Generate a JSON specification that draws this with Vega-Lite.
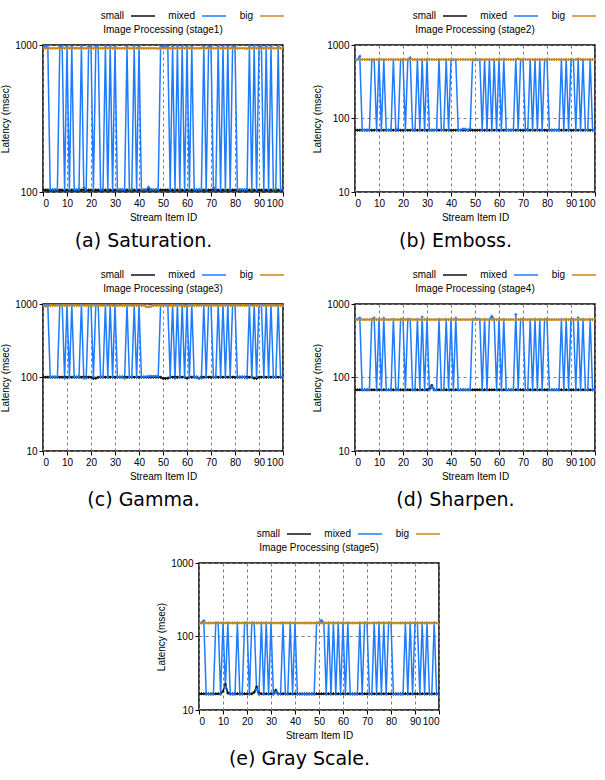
{
"$schema": "https://vega.github.io/schema/vega-lite/v6.json",
"padding": {"left": 0, "top": 3, "right": 5, "bottom": 2},
"background": "white",
"config": {
  "font": "Liberation Sans",
  "view": {"stroke": "#000", "strokeWidth": 1.5},
  "axis": {"labelFontSize": 10, "titleFontSize": 10, "titleFontWeight": "normal", "labelColor": "#000", "titleColor": "#000", "gridDash": [3, 3], "gridColor": "#808080", "gridWidth": 1, "domain": false, "tickColor": "#000", "tickSize": 4, "labelPadding": 2, "titlePadding": 4},
  "legend": {"labelFontSize": 10, "labelColor": "#000", "symbolType": "stroke", "symbolStrokeWidth": 1.5, "symbolSize": 576, "labelAlign": "right", "labelOffset": -32, "columnPadding": 10, "padding": 0},
  "title": {"fontSize": 10, "fontWeight": "normal", "color": "#000"}
},
"center": true,
"spacing": 11,
"resolve": {"scale": {"color": "independent"}, "legend": {"color": "independent"}},
"datasets": {
"s1": [
{"x":0,"small":103,"mixed":970,"big":950},{"x":1,"small":103,"mixed":970,"big":950},{"x":2,"small":103,"mixed":995,"big":950},{"x":3,"small":103,"mixed":104,"big":950},{"x":4,"small":103,"mixed":104,"big":950},{"x":5,"small":103,"mixed":104,"big":950},{"x":6,"small":103,"mixed":104,"big":950},{"x":7,"small":103,"mixed":970,"big":950},{"x":8,"small":103,"mixed":970,"big":950},{"x":9,"small":103,"mixed":104,"big":950},
{"x":10,"small":103,"mixed":970,"big":950},{"x":11,"small":103,"mixed":104,"big":950},{"x":12,"small":103,"mixed":970,"big":950},{"x":13,"small":103,"mixed":104,"big":950},{"x":14,"small":103,"mixed":104,"big":955},{"x":15,"small":103,"mixed":104,"big":950},{"x":16,"small":103,"mixed":970,"big":950},{"x":17,"small":104,"mixed":107,"big":950},{"x":18,"small":103,"mixed":104,"big":950},{"x":19,"small":103,"mixed":970,"big":950},
{"x":20,"small":103,"mixed":990,"big":950},{"x":21,"small":103,"mixed":104,"big":950},{"x":22,"small":103,"mixed":970,"big":950},{"x":23,"small":103,"mixed":995,"big":950},{"x":24,"small":103,"mixed":104,"big":950},{"x":25,"small":103,"mixed":104,"big":950},{"x":26,"small":103,"mixed":970,"big":950},{"x":27,"small":103,"mixed":104,"big":950},{"x":28,"small":103,"mixed":970,"big":950},{"x":29,"small":103,"mixed":104,"big":950},
{"x":30,"small":103,"mixed":970,"big":945},{"x":31,"small":103,"mixed":104,"big":950},{"x":32,"small":103,"mixed":104,"big":950},{"x":33,"small":103,"mixed":104,"big":950},{"x":34,"small":103,"mixed":104,"big":950},{"x":35,"small":103,"mixed":970,"big":950},{"x":36,"small":103,"mixed":104,"big":950},{"x":37,"small":103,"mixed":104,"big":950},{"x":38,"small":103,"mixed":985,"big":950},{"x":39,"small":103,"mixed":104,"big":950},
{"x":40,"small":103,"mixed":970,"big":950},{"x":41,"small":103,"mixed":104,"big":950},{"x":42,"small":103,"mixed":104,"big":950},{"x":43,"small":103,"mixed":104,"big":950},{"x":44,"small":104,"mixed":108,"big":950},{"x":45,"small":103,"mixed":104,"big":950},{"x":46,"small":103,"mixed":104,"big":950},{"x":47,"small":103,"mixed":104,"big":950},{"x":48,"small":103,"mixed":104,"big":945},{"x":49,"small":103,"mixed":970,"big":950},
{"x":50,"small":103,"mixed":970,"big":950},{"x":51,"small":103,"mixed":970,"big":950},{"x":52,"small":103,"mixed":970,"big":950},{"x":53,"small":103,"mixed":104,"big":950},{"x":54,"small":103,"mixed":970,"big":950},{"x":55,"small":103,"mixed":104,"big":950},{"x":56,"small":103,"mixed":970,"big":950},{"x":57,"small":103,"mixed":104,"big":950},{"x":58,"small":103,"mixed":970,"big":950},{"x":59,"small":103,"mixed":104,"big":950},
{"x":60,"small":103,"mixed":970,"big":950},{"x":61,"small":103,"mixed":104,"big":950},{"x":62,"small":103,"mixed":970,"big":950},{"x":63,"small":103,"mixed":104,"big":950},{"x":64,"small":103,"mixed":104,"big":950},{"x":65,"small":103,"mixed":104,"big":950},{"x":66,"small":103,"mixed":104,"big":955},{"x":67,"small":103,"mixed":970,"big":950},{"x":68,"small":103,"mixed":104,"big":950},{"x":69,"small":103,"mixed":970,"big":950},
{"x":70,"small":103,"mixed":970,"big":950},{"x":71,"small":104,"mixed":107,"big":950},{"x":72,"small":103,"mixed":104,"big":950},{"x":73,"small":103,"mixed":970,"big":950},{"x":74,"small":103,"mixed":104,"big":950},{"x":75,"small":103,"mixed":970,"big":950},{"x":76,"small":103,"mixed":104,"big":950},{"x":77,"small":103,"mixed":970,"big":950},{"x":78,"small":103,"mixed":104,"big":950},{"x":79,"small":103,"mixed":970,"big":950},
{"x":80,"small":103,"mixed":970,"big":950},{"x":81,"small":103,"mixed":104,"big":950},{"x":82,"small":103,"mixed":104,"big":950},{"x":83,"small":103,"mixed":104,"big":950},{"x":84,"small":103,"mixed":104,"big":950},{"x":85,"small":103,"mixed":104,"big":945},{"x":86,"small":103,"mixed":970,"big":950},{"x":87,"small":103,"mixed":104,"big":950},{"x":88,"small":103,"mixed":970,"big":950},{"x":89,"small":103,"mixed":104,"big":950},
{"x":90,"small":103,"mixed":970,"big":950},{"x":91,"small":103,"mixed":970,"big":950},{"x":92,"small":103,"mixed":104,"big":950},{"x":93,"small":103,"mixed":970,"big":950},{"x":94,"small":103,"mixed":104,"big":950},{"x":95,"small":103,"mixed":970,"big":950},{"x":96,"small":103,"mixed":104,"big":950},{"x":97,"small":103,"mixed":104,"big":950},{"x":98,"small":103,"mixed":970,"big":950},{"x":99,"small":103,"mixed":104,"big":950},
{"x":100,"small":103,"mixed":104,"big":950}
],
"s2": [
{"x":0,"small":69,"mixed":630,"big":635},{"x":1,"small":69,"mixed":630,"big":635},{"x":2,"small":69,"mixed":700,"big":635},{"x":3,"small":69,"mixed":69,"big":635},{"x":4,"small":69,"mixed":69,"big":635},{"x":5,"small":69,"mixed":69,"big":635},{"x":6,"small":69,"mixed":69,"big":635},{"x":7,"small":69,"mixed":630,"big":635},{"x":8,"small":69,"mixed":630,"big":635},{"x":9,"small":69,"mixed":69,"big":635},
{"x":10,"small":69,"mixed":630,"big":635},{"x":11,"small":69,"mixed":69,"big":635},{"x":12,"small":69,"mixed":630,"big":635},{"x":13,"small":69,"mixed":69,"big":635},{"x":14,"small":69,"mixed":69,"big":635},{"x":15,"small":69,"mixed":69,"big":635},{"x":16,"small":69,"mixed":630,"big":635},{"x":17,"small":69,"mixed":69,"big":635},{"x":18,"small":69,"mixed":72,"big":635},{"x":19,"small":69,"mixed":630,"big":635},
{"x":20,"small":69,"mixed":630,"big":635},{"x":21,"small":69,"mixed":69,"big":635},{"x":22,"small":69,"mixed":630,"big":635},{"x":23,"small":69,"mixed":670,"big":635},{"x":24,"small":69,"mixed":69,"big":635},{"x":25,"small":69,"mixed":69,"big":635},{"x":26,"small":69,"mixed":630,"big":635},{"x":27,"small":69,"mixed":69,"big":635},{"x":28,"small":69,"mixed":630,"big":635},{"x":29,"small":69,"mixed":69,"big":635},
{"x":30,"small":69,"mixed":630,"big":635},{"x":31,"small":69,"mixed":69,"big":635},{"x":32,"small":69,"mixed":69,"big":635},{"x":33,"small":69,"mixed":69,"big":635},{"x":34,"small":69,"mixed":69,"big":635},{"x":35,"small":69,"mixed":630,"big":635},{"x":36,"small":69,"mixed":69,"big":635},{"x":37,"small":69,"mixed":69,"big":635},{"x":38,"small":69,"mixed":630,"big":635},{"x":39,"small":69,"mixed":69,"big":635},
{"x":40,"small":69,"mixed":630,"big":635},{"x":41,"small":69,"mixed":630,"big":635},{"x":42,"small":69,"mixed":630,"big":635},{"x":43,"small":69,"mixed":69,"big":635},{"x":44,"small":69,"mixed":69,"big":635},{"x":45,"small":69,"mixed":72,"big":635},{"x":46,"small":69,"mixed":72,"big":635},{"x":47,"small":69,"mixed":69,"big":635},{"x":48,"small":69,"mixed":73,"big":635},{"x":49,"small":69,"mixed":630,"big":635},
{"x":50,"small":69,"mixed":630,"big":635},{"x":51,"small":69,"mixed":630,"big":635},{"x":52,"small":69,"mixed":630,"big":635},{"x":53,"small":69,"mixed":69,"big":635},{"x":54,"small":69,"mixed":630,"big":635},{"x":55,"small":69,"mixed":69,"big":635},{"x":56,"small":69,"mixed":630,"big":635},{"x":57,"small":69,"mixed":69,"big":635},{"x":58,"small":69,"mixed":630,"big":635},{"x":59,"small":69,"mixed":69,"big":635},
{"x":60,"small":69,"mixed":630,"big":635},{"x":61,"small":69,"mixed":69,"big":635},{"x":62,"small":69,"mixed":640,"big":635},{"x":63,"small":69,"mixed":69,"big":635},{"x":64,"small":69,"mixed":69,"big":635},{"x":65,"small":69,"mixed":69,"big":635},{"x":66,"small":69,"mixed":69,"big":635},{"x":67,"small":69,"mixed":630,"big":635},{"x":68,"small":69,"mixed":69,"big":650},{"x":69,"small":69,"mixed":630,"big":635},
{"x":70,"small":69,"mixed":630,"big":635},{"x":71,"small":69,"mixed":72,"big":635},{"x":72,"small":69,"mixed":69,"big":635},{"x":73,"small":69,"mixed":630,"big":635},{"x":74,"small":69,"mixed":69,"big":635},{"x":75,"small":69,"mixed":630,"big":635},{"x":76,"small":69,"mixed":69,"big":635},{"x":77,"small":69,"mixed":630,"big":635},{"x":78,"small":69,"mixed":69,"big":635},{"x":79,"small":69,"mixed":630,"big":635},
{"x":80,"small":69,"mixed":630,"big":635},{"x":81,"small":69,"mixed":69,"big":635},{"x":82,"small":69,"mixed":69,"big":635},{"x":83,"small":69,"mixed":69,"big":635},{"x":84,"small":69,"mixed":69,"big":635},{"x":85,"small":69,"mixed":69,"big":635},{"x":86,"small":69,"mixed":630,"big":635},{"x":87,"small":69,"mixed":69,"big":635},{"x":88,"small":69,"mixed":630,"big":635},{"x":89,"small":69,"mixed":69,"big":635},
{"x":90,"small":69,"mixed":630,"big":635},{"x":91,"small":69,"mixed":630,"big":635},{"x":92,"small":69,"mixed":69,"big":635},{"x":93,"small":69,"mixed":630,"big":650},{"x":94,"small":69,"mixed":69,"big":635},{"x":95,"small":69,"mixed":630,"big":635},{"x":96,"small":69,"mixed":69,"big":635},{"x":97,"small":69,"mixed":69,"big":635},{"x":98,"small":69,"mixed":630,"big":635},{"x":99,"small":69,"mixed":69,"big":635},
{"x":100,"small":69,"mixed":69,"big":635}
],
"s3": [
{"x":0,"small":101,"mixed":980,"big":955},{"x":1,"small":101,"mixed":940,"big":930},{"x":2,"small":101,"mixed":980,"big":935},{"x":3,"small":101,"mixed":102,"big":955},{"x":4,"small":101,"mixed":102,"big":955},{"x":5,"small":101,"mixed":102,"big":955},{"x":6,"small":101,"mixed":102,"big":955},{"x":7,"small":101,"mixed":980,"big":955},{"x":8,"small":101,"mixed":980,"big":955},{"x":9,"small":101,"mixed":98,"big":955},
{"x":10,"small":101,"mixed":960,"big":955},{"x":11,"small":101,"mixed":102,"big":955},{"x":12,"small":101,"mixed":980,"big":955},{"x":13,"small":101,"mixed":102,"big":955},{"x":14,"small":101,"mixed":102,"big":955},{"x":15,"small":101,"mixed":102,"big":955},{"x":16,"small":101,"mixed":980,"big":955},{"x":17,"small":101,"mixed":98,"big":955},{"x":18,"small":101,"mixed":98,"big":955},{"x":19,"small":101,"mixed":980,"big":955},
{"x":20,"small":101,"mixed":980,"big":955},{"x":21,"small":97,"mixed":102,"big":955},{"x":22,"small":98,"mixed":980,"big":955},{"x":23,"small":101,"mixed":980,"big":955},{"x":24,"small":101,"mixed":102,"big":955},{"x":25,"small":101,"mixed":102,"big":955},{"x":26,"small":101,"mixed":980,"big":955},{"x":27,"small":101,"mixed":102,"big":955},{"x":28,"small":101,"mixed":980,"big":955},{"x":29,"small":101,"mixed":102,"big":955},
{"x":30,"small":101,"mixed":980,"big":940},{"x":31,"small":101,"mixed":102,"big":955},{"x":32,"small":101,"mixed":102,"big":955},{"x":33,"small":101,"mixed":102,"big":955},{"x":34,"small":101,"mixed":98,"big":955},{"x":35,"small":101,"mixed":980,"big":955},{"x":36,"small":101,"mixed":102,"big":955},{"x":37,"small":101,"mixed":102,"big":955},{"x":38,"small":101,"mixed":980,"big":955},{"x":39,"small":101,"mixed":102,"big":955},
{"x":40,"small":101,"mixed":980,"big":955},{"x":41,"small":101,"mixed":102,"big":955},{"x":42,"small":101,"mixed":102,"big":955},{"x":43,"small":101,"mixed":102,"big":920},{"x":44,"small":101,"mixed":104,"big":915},{"x":45,"small":101,"mixed":104,"big":925},{"x":46,"small":101,"mixed":104,"big":955},{"x":47,"small":101,"mixed":104,"big":955},{"x":48,"small":101,"mixed":104,"big":955},{"x":49,"small":101,"mixed":980,"big":955},
{"x":50,"small":97,"mixed":980,"big":955},{"x":51,"small":97,"mixed":980,"big":955},{"x":52,"small":98,"mixed":950,"big":955},{"x":53,"small":101,"mixed":102,"big":955},{"x":54,"small":101,"mixed":980,"big":955},{"x":55,"small":101,"mixed":97,"big":955},{"x":56,"small":101,"mixed":980,"big":955},{"x":57,"small":101,"mixed":102,"big":955},{"x":58,"small":101,"mixed":980,"big":955},{"x":59,"small":101,"mixed":102,"big":935},
{"x":60,"small":98,"mixed":970,"big":930},{"x":61,"small":101,"mixed":102,"big":955},{"x":62,"small":101,"mixed":980,"big":955},{"x":63,"small":101,"mixed":102,"big":955},{"x":64,"small":101,"mixed":102,"big":955},{"x":65,"small":98,"mixed":98,"big":955},{"x":66,"small":101,"mixed":98,"big":955},{"x":67,"small":101,"mixed":980,"big":955},{"x":68,"small":101,"mixed":102,"big":955},{"x":69,"small":101,"mixed":980,"big":955},
{"x":70,"small":101,"mixed":980,"big":955},{"x":71,"small":101,"mixed":102,"big":955},{"x":72,"small":101,"mixed":102,"big":955},{"x":73,"small":101,"mixed":980,"big":955},{"x":74,"small":101,"mixed":102,"big":955},{"x":75,"small":101,"mixed":980,"big":955},{"x":76,"small":101,"mixed":102,"big":955},{"x":77,"small":101,"mixed":980,"big":955},{"x":78,"small":101,"mixed":102,"big":955},{"x":79,"small":101,"mixed":980,"big":955},
{"x":80,"small":101,"mixed":980,"big":955},{"x":81,"small":101,"mixed":102,"big":955},{"x":82,"small":101,"mixed":102,"big":955},{"x":83,"small":101,"mixed":102,"big":955},{"x":84,"small":101,"mixed":102,"big":955},{"x":85,"small":101,"mixed":98,"big":955},{"x":86,"small":101,"mixed":980,"big":955},{"x":87,"small":101,"mixed":102,"big":955},{"x":88,"small":98,"mixed":980,"big":955},{"x":89,"small":97,"mixed":102,"big":955},
{"x":90,"small":101,"mixed":980,"big":955},{"x":91,"small":101,"mixed":980,"big":955},{"x":92,"small":101,"mixed":102,"big":955},{"x":93,"small":101,"mixed":980,"big":955},{"x":94,"small":101,"mixed":102,"big":955},{"x":95,"small":101,"mixed":980,"big":955},{"x":96,"small":101,"mixed":102,"big":955},{"x":97,"small":101,"mixed":102,"big":955},{"x":98,"small":101,"mixed":980,"big":955},{"x":99,"small":101,"mixed":102,"big":955},
{"x":100,"small":101,"mixed":102,"big":955}
],
"s4": [
{"x":0,"small":68,"mixed":620,"big":614},{"x":1,"small":68,"mixed":620,"big":614},{"x":2,"small":68,"mixed":645,"big":614},{"x":3,"small":68,"mixed":68,"big":614},{"x":4,"small":68,"mixed":68,"big":614},{"x":5,"small":68,"mixed":68,"big":614},{"x":6,"small":68,"mixed":68,"big":614},{"x":7,"small":68,"mixed":620,"big":614},{"x":8,"small":68,"mixed":645,"big":614},{"x":9,"small":68,"mixed":68,"big":614},
{"x":10,"small":68,"mixed":620,"big":614},{"x":11,"small":68,"mixed":68,"big":614},{"x":12,"small":68,"mixed":645,"big":614},{"x":13,"small":68,"mixed":68,"big":614},{"x":14,"small":68,"mixed":68,"big":614},{"x":15,"small":68,"mixed":68,"big":614},{"x":16,"small":68,"mixed":620,"big":614},{"x":17,"small":68,"mixed":68,"big":614},{"x":18,"small":68,"mixed":68,"big":614},{"x":19,"small":68,"mixed":620,"big":614},
{"x":20,"small":68,"mixed":620,"big":614},{"x":21,"small":68,"mixed":68,"big":614},{"x":22,"small":68,"mixed":620,"big":614},{"x":23,"small":68,"mixed":620,"big":614},{"x":24,"small":68,"mixed":68,"big":614},{"x":25,"small":68,"mixed":68,"big":614},{"x":26,"small":68,"mixed":620,"big":614},{"x":27,"small":68,"mixed":68,"big":614},{"x":28,"small":68,"mixed":665,"big":614},{"x":29,"small":68,"mixed":68,"big":614},
{"x":30,"small":68,"mixed":620,"big":614},{"x":31,"small":70,"mixed":68,"big":614},{"x":32,"small":78,"mixed":75,"big":614},{"x":33,"small":68,"mixed":68,"big":614},{"x":34,"small":68,"mixed":68,"big":614},{"x":35,"small":68,"mixed":620,"big":614},{"x":36,"small":68,"mixed":68,"big":614},{"x":37,"small":68,"mixed":68,"big":614},{"x":38,"small":68,"mixed":620,"big":614},{"x":39,"small":68,"mixed":68,"big":614},
{"x":40,"small":68,"mixed":620,"big":614},{"x":41,"small":68,"mixed":68,"big":614},{"x":42,"small":68,"mixed":645,"big":614},{"x":43,"small":68,"mixed":68,"big":614},{"x":44,"small":68,"mixed":68,"big":614},{"x":45,"small":68,"mixed":68,"big":614},{"x":46,"small":68,"mixed":68,"big":614},{"x":47,"small":68,"mixed":68,"big":614},{"x":48,"small":68,"mixed":68,"big":614},{"x":49,"small":68,"mixed":620,"big":614},
{"x":50,"small":68,"mixed":620,"big":614},{"x":51,"small":68,"mixed":620,"big":614},{"x":52,"small":68,"mixed":620,"big":614},{"x":53,"small":68,"mixed":68,"big":614},{"x":54,"small":68,"mixed":620,"big":614},{"x":55,"small":68,"mixed":68,"big":614},{"x":56,"small":68,"mixed":620,"big":614},{"x":57,"small":68,"mixed":680,"big":614},{"x":58,"small":68,"mixed":620,"big":614},{"x":59,"small":68,"mixed":68,"big":614},
{"x":60,"small":68,"mixed":620,"big":614},{"x":61,"small":68,"mixed":68,"big":614},{"x":62,"small":68,"mixed":620,"big":614},{"x":63,"small":68,"mixed":68,"big":614},{"x":64,"small":68,"mixed":68,"big":614},{"x":65,"small":68,"mixed":68,"big":614},{"x":66,"small":68,"mixed":68,"big":614},{"x":67,"small":68,"mixed":720,"big":614},{"x":68,"small":68,"mixed":68,"big":614},{"x":69,"small":68,"mixed":620,"big":614},
{"x":70,"small":68,"mixed":620,"big":614},{"x":71,"small":68,"mixed":68,"big":614},{"x":72,"small":68,"mixed":68,"big":614},{"x":73,"small":68,"mixed":620,"big":614},{"x":74,"small":68,"mixed":68,"big":614},{"x":75,"small":68,"mixed":620,"big":614},{"x":76,"small":68,"mixed":68,"big":614},{"x":77,"small":68,"mixed":620,"big":614},{"x":78,"small":68,"mixed":68,"big":614},{"x":79,"small":68,"mixed":620,"big":614},
{"x":80,"small":68,"mixed":620,"big":614},{"x":81,"small":68,"mixed":68,"big":614},{"x":82,"small":68,"mixed":68,"big":614},{"x":83,"small":68,"mixed":68,"big":614},{"x":84,"small":68,"mixed":68,"big":614},{"x":85,"small":68,"mixed":68,"big":614},{"x":86,"small":68,"mixed":620,"big":614},{"x":87,"small":68,"mixed":68,"big":614},{"x":88,"small":68,"mixed":620,"big":614},{"x":89,"small":68,"mixed":68,"big":614},
{"x":90,"small":68,"mixed":620,"big":614},{"x":91,"small":68,"mixed":620,"big":614},{"x":92,"small":68,"mixed":68,"big":614},{"x":93,"small":68,"mixed":650,"big":614},{"x":94,"small":68,"mixed":68,"big":614},{"x":95,"small":68,"mixed":620,"big":614},{"x":96,"small":68,"mixed":68,"big":614},{"x":97,"small":68,"mixed":68,"big":614},{"x":98,"small":68,"mixed":620,"big":614},{"x":99,"small":68,"mixed":68,"big":614},
{"x":100,"small":68,"mixed":68,"big":614}
],
"s5": [
{"x":0,"small":16.6,"mixed":154,"big":153},{"x":1,"small":16.6,"mixed":154,"big":153},{"x":2,"small":16.6,"mixed":164,"big":153},{"x":3,"small":16.6,"mixed":16.4,"big":153},{"x":4,"small":16.6,"mixed":16.4,"big":153},{"x":5,"small":16.6,"mixed":16.4,"big":153},{"x":6,"small":16.6,"mixed":16.4,"big":153},{"x":7,"small":16.6,"mixed":154,"big":153},{"x":8,"small":16.6,"mixed":154,"big":153},{"x":9,"small":16.6,"mixed":16.4,"big":153},
{"x":10,"small":18,"mixed":154,"big":153},{"x":11,"small":22.4,"mixed":20,"big":153},{"x":12,"small":17,"mixed":154,"big":153},{"x":13,"small":16.6,"mixed":16.4,"big":153},{"x":14,"small":16.6,"mixed":16.4,"big":153},{"x":15,"small":16.6,"mixed":16.4,"big":153},{"x":16,"small":16.6,"mixed":154,"big":153},{"x":17,"small":16.6,"mixed":16.4,"big":153},{"x":18,"small":16.6,"mixed":16.4,"big":153},{"x":19,"small":16.6,"mixed":154,"big":153},
{"x":20,"small":16.6,"mixed":154,"big":153},{"x":21,"small":16.6,"mixed":16.4,"big":153},{"x":22,"small":16.6,"mixed":154,"big":153},{"x":23,"small":17.5,"mixed":154,"big":153},{"x":24,"small":20.6,"mixed":19,"big":153},{"x":25,"small":17,"mixed":16.4,"big":153},{"x":26,"small":16.6,"mixed":154,"big":153},{"x":27,"small":16.6,"mixed":16.4,"big":153},{"x":28,"small":16.6,"mixed":154,"big":153},{"x":29,"small":16.6,"mixed":16.4,"big":153},
{"x":30,"small":16.6,"mixed":154,"big":153},{"x":31,"small":16.6,"mixed":16.4,"big":153},{"x":32,"small":18.6,"mixed":17.5,"big":153},{"x":33,"small":16.6,"mixed":16.4,"big":153},{"x":34,"small":16.6,"mixed":16.4,"big":153},{"x":35,"small":16.6,"mixed":154,"big":153},{"x":36,"small":16.6,"mixed":16.4,"big":153},{"x":37,"small":16.6,"mixed":16.4,"big":153},{"x":38,"small":16.6,"mixed":154,"big":153},{"x":39,"small":16.6,"mixed":16.4,"big":153},
{"x":40,"small":16.6,"mixed":154,"big":153},{"x":41,"small":16.6,"mixed":16.4,"big":153},{"x":42,"small":16.6,"mixed":16.4,"big":153},{"x":43,"small":16.6,"mixed":16.4,"big":153},{"x":44,"small":16.6,"mixed":16.4,"big":153},{"x":45,"small":16.6,"mixed":16.4,"big":153},{"x":46,"small":16.6,"mixed":16.4,"big":153},{"x":47,"small":16.6,"mixed":16.4,"big":153},{"x":48,"small":16.6,"mixed":16.4,"big":153},{"x":49,"small":16.6,"mixed":154,"big":153},
{"x":50,"small":16.6,"mixed":154,"big":153},{"x":51,"small":16.6,"mixed":166,"big":153},{"x":52,"small":16.6,"mixed":154,"big":153},{"x":53,"small":16.6,"mixed":16.4,"big":153},{"x":54,"small":16.6,"mixed":154,"big":153},{"x":55,"small":16.6,"mixed":16.4,"big":153},{"x":56,"small":16.6,"mixed":154,"big":153},{"x":57,"small":16.6,"mixed":16.4,"big":153},{"x":58,"small":16.6,"mixed":154,"big":153},{"x":59,"small":16.6,"mixed":16.4,"big":153},
{"x":60,"small":16.6,"mixed":154,"big":153},{"x":61,"small":16.6,"mixed":16.4,"big":153},{"x":62,"small":16.6,"mixed":154,"big":153},{"x":63,"small":16.6,"mixed":16.4,"big":153},{"x":64,"small":16.6,"mixed":16.4,"big":153},{"x":65,"small":16.6,"mixed":16.4,"big":153},{"x":66,"small":16.6,"mixed":16.4,"big":153},{"x":67,"small":16.6,"mixed":154,"big":153},{"x":68,"small":16.6,"mixed":16.4,"big":153},{"x":69,"small":16.6,"mixed":154,"big":153},
{"x":70,"small":16.6,"mixed":154,"big":153},{"x":71,"small":16.6,"mixed":16.4,"big":153},{"x":72,"small":16.6,"mixed":16.4,"big":153},{"x":73,"small":16.6,"mixed":154,"big":153},{"x":74,"small":16.6,"mixed":16.4,"big":153},{"x":75,"small":16.6,"mixed":154,"big":153},{"x":76,"small":16.6,"mixed":16.4,"big":153},{"x":77,"small":16.6,"mixed":154,"big":153},{"x":78,"small":16.6,"mixed":16.4,"big":153},{"x":79,"small":16.6,"mixed":154,"big":153},
{"x":80,"small":16.6,"mixed":154,"big":153},{"x":81,"small":16.6,"mixed":16.4,"big":153},{"x":82,"small":16.6,"mixed":16.4,"big":153},{"x":83,"small":16.6,"mixed":16.4,"big":153},{"x":84,"small":16.6,"mixed":16.4,"big":153},{"x":85,"small":16.6,"mixed":16.4,"big":153},{"x":86,"small":16.6,"mixed":154,"big":153},{"x":87,"small":16.6,"mixed":16.4,"big":153},{"x":88,"small":16.6,"mixed":154,"big":153},{"x":89,"small":16.6,"mixed":16.4,"big":153},
{"x":90,"small":16.6,"mixed":154,"big":153},{"x":91,"small":16.6,"mixed":154,"big":153},{"x":92,"small":16.6,"mixed":16.4,"big":153},{"x":93,"small":16.6,"mixed":154,"big":153},{"x":94,"small":16.6,"mixed":16.4,"big":153},{"x":95,"small":16.6,"mixed":154,"big":153},{"x":96,"small":16.6,"mixed":16.4,"big":153},{"x":97,"small":16.6,"mixed":16.4,"big":153},{"x":98,"small":16.6,"mixed":154,"big":153},{"x":99,"small":16.6,"mixed":16.4,"big":153},
{"x":100,"small":16.6,"mixed":16.4,"big":153}
]
},
"vconcat": [
{"hconcat": [
  {"title": {"text": "(a) Saturation.", "orient": "bottom", "anchor": "middle", "font": "DejaVu Sans", "fontSize": 19, "offset": 9},
   "vconcat": [{
    "width": 240, "height": 147,
    "title": {"text": "Image Processing (stage1)", "offset": 5},
    "data": {"name": "s1"},
    "transform": [{"fold": ["small", "mixed", "big"], "as": ["series", "latency"]}],
    "mark": {"type": "line", "strokeWidth": 1.5, "clip": true, "point": {"shape": "cross", "size": 9, "filled": true}},
    "encoding": {
      "x": {"field": "x", "type": "quantitative", "scale": {"domain": [0, 100], "nice": false}, "axis": {"values": [0,10,20,30,40,50,60,70,80,90,100], "title": "Stream Item ID"}},
      "y": {"field": "latency", "type": "quantitative", "scale": {"type": "log", "domain": [100, 1000]}, "axis": {"values": [100, 1000], "format": "d", "title": "Latency (msec)"}},
      "color": {"field": "series", "type": "nominal", "scale": {"domain": ["small", "mixed", "big"], "range": ["#111111", "#1f7bff", "#c8871e"]}, "legend": {"title": null, "orient": "none", "legendX": 87, "legendY": -42, "direction": "horizontal"}}
    }
   }]},
  {"title": {"text": "(b) Emboss.", "orient": "bottom", "anchor": "middle", "font": "DejaVu Sans", "fontSize": 19, "offset": 9},
   "vconcat": [{
    "width": 240, "height": 147,
    "title": {"text": "Image Processing (stage2)", "offset": 5},
    "data": {"name": "s2"},
    "transform": [{"fold": ["small", "mixed", "big"], "as": ["series", "latency"]}],
    "mark": {"type": "line", "strokeWidth": 1.5, "clip": true, "point": {"shape": "cross", "size": 9, "filled": true}},
    "encoding": {
      "x": {"field": "x", "type": "quantitative", "scale": {"domain": [0, 100], "nice": false}, "axis": {"values": [0,10,20,30,40,50,60,70,80,90,100], "title": "Stream Item ID"}},
      "y": {"field": "latency", "type": "quantitative", "scale": {"type": "log", "domain": [10, 1000]}, "axis": {"values": [10, 100, 1000], "format": "d", "title": "Latency (msec)"}},
      "color": {"field": "series", "type": "nominal", "scale": {"domain": ["small", "mixed", "big"], "range": ["#111111", "#1f7bff", "#c8871e"]}, "legend": {"title": null, "orient": "none", "legendX": 87, "legendY": -42, "direction": "horizontal"}}
    }
   }]}
 ], "spacing": 25, "resolve": {"scale": {"color": "independent"}, "legend": {"color": "independent"}}},
{"hconcat": [
  {"title": {"text": "(c) Gamma.", "orient": "bottom", "anchor": "middle", "font": "DejaVu Sans", "fontSize": 19, "offset": 9},
   "vconcat": [{
    "width": 240, "height": 147,
    "title": {"text": "Image Processing (stage3)", "offset": 5},
    "data": {"name": "s3"},
    "transform": [{"fold": ["small", "mixed", "big"], "as": ["series", "latency"]}],
    "mark": {"type": "line", "strokeWidth": 1.5, "clip": true, "point": {"shape": "cross", "size": 9, "filled": true}},
    "encoding": {
      "x": {"field": "x", "type": "quantitative", "scale": {"domain": [0, 100], "nice": false}, "axis": {"values": [0,10,20,30,40,50,60,70,80,90,100], "title": "Stream Item ID"}},
      "y": {"field": "latency", "type": "quantitative", "scale": {"type": "log", "domain": [10, 1000]}, "axis": {"values": [10, 100, 1000], "format": "d", "title": "Latency (msec)"}},
      "color": {"field": "series", "type": "nominal", "scale": {"domain": ["small", "mixed", "big"], "range": ["#111111", "#1f7bff", "#c8871e"]}, "legend": {"title": null, "orient": "none", "legendX": 87, "legendY": -42, "direction": "horizontal"}}
    }
   }]},
  {"title": {"text": "(d) Sharpen.", "orient": "bottom", "anchor": "middle", "font": "DejaVu Sans", "fontSize": 19, "offset": 9},
   "vconcat": [{
    "width": 240, "height": 147,
    "title": {"text": "Image Processing (stage4)", "offset": 5},
    "data": {"name": "s4"},
    "transform": [{"fold": ["small", "mixed", "big"], "as": ["series", "latency"]}],
    "mark": {"type": "line", "strokeWidth": 1.5, "clip": true, "point": {"shape": "cross", "size": 9, "filled": true}},
    "encoding": {
      "x": {"field": "x", "type": "quantitative", "scale": {"domain": [0, 100], "nice": false}, "axis": {"values": [0,10,20,30,40,50,60,70,80,90,100], "title": "Stream Item ID"}},
      "y": {"field": "latency", "type": "quantitative", "scale": {"type": "log", "domain": [10, 1000]}, "axis": {"values": [10, 100, 1000], "format": "d", "title": "Latency (msec)"}},
      "color": {"field": "series", "type": "nominal", "scale": {"domain": ["small", "mixed", "big"], "range": ["#111111", "#1f7bff", "#c8871e"]}, "legend": {"title": null, "orient": "none", "legendX": 87, "legendY": -42, "direction": "horizontal"}}
    }
   }]}
 ], "spacing": 25, "resolve": {"scale": {"color": "independent"}, "legend": {"color": "independent"}}},
{"title": {"text": "(e) Gray Scale.", "orient": "bottom", "anchor": "middle", "font": "DejaVu Sans", "fontSize": 19, "offset": 9},
 "vconcat": [{
    "width": 240, "height": 147,
    "title": {"text": "Image Processing (stage5)", "offset": 5},
    "data": {"name": "s5"},
    "transform": [{"fold": ["small", "mixed", "big"], "as": ["series", "latency"]}],
    "mark": {"type": "line", "strokeWidth": 1.5, "clip": true, "point": {"shape": "cross", "size": 9, "filled": true}},
    "encoding": {
      "x": {"field": "x", "type": "quantitative", "scale": {"domain": [0, 100], "nice": false}, "axis": {"values": [0,10,20,30,40,50,60,70,80,90,100], "title": "Stream Item ID"}},
      "y": {"field": "latency", "type": "quantitative", "scale": {"type": "log", "domain": [10, 1000]}, "axis": {"values": [10, 100, 1000], "format": "d", "title": "Latency (msec)"}},
      "color": {"field": "series", "type": "nominal", "scale": {"domain": ["small", "mixed", "big"], "range": ["#111111", "#1f7bff", "#c8871e"]}, "legend": {"title": null, "orient": "none", "legendX": 87, "legendY": -42, "direction": "horizontal"}}
    }
 }]}
]
}
